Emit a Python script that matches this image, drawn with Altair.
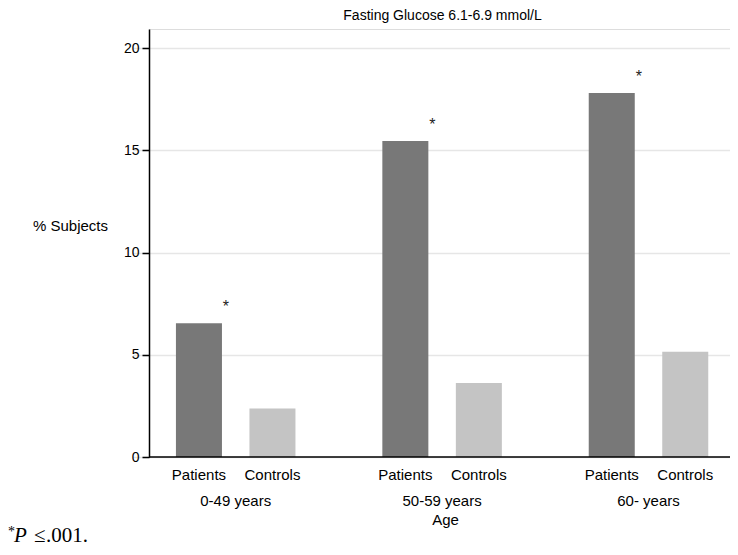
import altair as alt
import pandas as pd

groups = ["0-49 years", "50-59 years", "60- years"]
types = ["Patients", "Controls"]
patients = [6.54, 15.45, 17.8]
controls = [2.37, 3.62, 5.15]
y_ticks = [0, 5, 10, 15, 20]
title_text = "Fasting Glucose 6.1-6.9 mmol/L"
x_title = "Age"
y_title = "% Subjects"
star = "*"
foot_star, foot_p, foot_le, foot_num = "*", "P", "\u2264", ".001."

rows = []
for g, p, c in zip(groups, patients, controls):
    rows.append({"group": g, "type": "Patients", "value": p})
    rows.append({"group": g, "type": "Controls", "value": c})
df = pd.DataFrame(rows)
gdf = pd.DataFrame({"group": groups})
one = pd.DataFrame({"k": [0]})

W, H = 581, 428
SANS = "Liberation Sans"
SERIF = "Liberation Serif"

xscale = alt.Scale(domain=groups, range=[-16.5, 602.7], paddingInner=0, paddingOuter=0)
X = alt.X("group:N", scale=xscale, axis=None)
XO = alt.XOffset("type:N", scale=alt.Scale(domain=types, paddingInner=0.374, paddingOuter=0.591))
Y = alt.Y("value:Q", scale=alt.Scale(domain=[0, 20.93], nice=False),
          axis=alt.Axis(values=y_ticks, title=y_title, titleAngle=0, titleX=-79, titleY=196,
                        titleAlign="center", titleBaseline="middle", titleFontWeight="normal",
                        titleFontSize=15, titleFont=SANS, titleColor="black",
                        labelFont=SANS, labelFontSize=14, labelColor="black", labelPadding=3,
                        tickColor="black", tickSize=7, domainColor="black", domainWidth=1.5,
                        tickWidth=1.5, gridColor="#e6e6e6", gridWidth=1.5))

bars = alt.Chart(df).mark_bar().encode(
    x=X, xOffset=XO, y=Y,
    color=alt.Color("type:N", scale=alt.Scale(domain=types, range=["#787878", "#c4c4c4"]), legend=None),
)

stars = alt.Chart(df).transform_filter(alt.datum.type == "Patients").mark_text(
    text=star, fontSize=16, font=SANS, dx=27, dy=-11, baseline="alphabetic", color="#222"
).encode(x=X, xOffset=XO, y=alt.Y("value:Q"))

zero_rule = alt.Chart(one).mark_rule(color="black", strokeWidth=1.5).encode(y=alt.datum(0))

sub_labels = alt.Chart(df).mark_text(fontSize=15, font=SANS, baseline="middle", color="black").encode(
    x=X, xOffset=XO, text="type:N", y=alt.value(446))

group_labels = alt.Chart(gdf).mark_text(fontSize=15, font=SANS, baseline="middle", color="black").encode(
    x=X, text="group:N", y=alt.value(472))

age = alt.Chart(one).mark_text(text=x_title, fontSize=15, font=SANS, baseline="middle", color="black").encode(
    x=alt.value(296.5), y=alt.value(491))

f1 = alt.Chart(one).mark_text(text=foot_star, fontSize=14, font=SERIF, align="left", baseline="alphabetic",
                              color="black").encode(x=alt.value(-141), y=alt.value(507))
f2 = alt.Chart(one).mark_text(text=foot_p, fontSize=21, font=SERIF, fontStyle="italic", align="left",
                              baseline="alphabetic", color="black").encode(x=alt.value(-135), y=alt.value(513))
f3 = alt.Chart(one).mark_text(text=foot_le, fontSize=21, font=SERIF, align="left",
                              baseline="alphabetic", color="black").encode(x=alt.value(-115), y=alt.value(513))
f4 = alt.Chart(one).mark_text(text=foot_num, fontSize=21, font=SERIF, align="left",
                              baseline="alphabetic", color="black").encode(x=alt.value(-103), y=alt.value(513))

chart = alt.layer(bars, zero_rule, stars, sub_labels, group_labels, age, f1, f2, f3, f4).properties(
    width=W, height=H,
    title=alt.TitleParams(title_text, anchor="middle", fontSize=14, font=SANS, fontWeight="normal",
                          color="black", offset=6, dx=3),
    autosize=alt.AutoSizeParams(type="none"),
    padding={"left": 141, "top": 21, "right": 0, "bottom": 90},
).configure_view(stroke=None).configure(background="white")

chart.save("out.html", embed_options={"renderer": "svg", "actions": False})
